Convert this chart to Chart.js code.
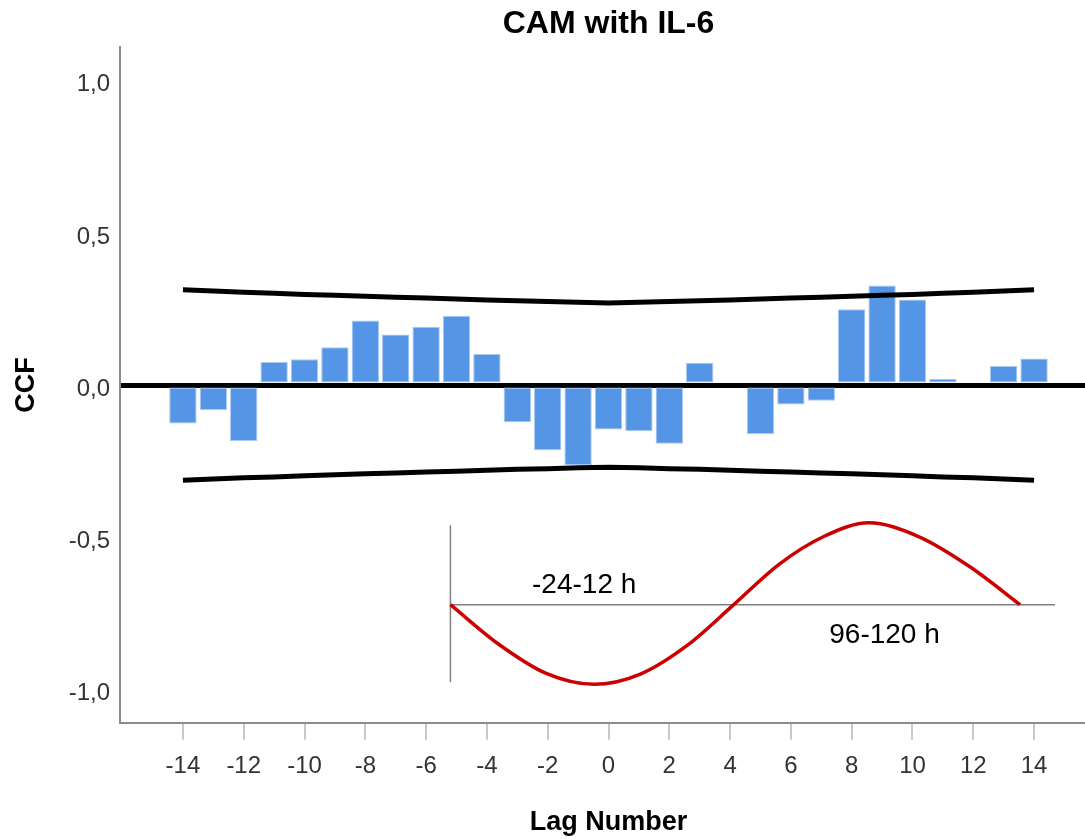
<!DOCTYPE html>
<html>
<head>
<meta charset="utf-8">
<script src="https://cdn.jsdelivr.net/npm/chart.js@4.4.1/dist/chart.umd.min.js"></script>
<style>
  html, body { margin: 0; padding: 0; background: #fff; overflow: hidden; }
  #wrap { width: 1085px; height: 839px; overflow: hidden; }
</style>
</head>
<body>
<div id="wrap"><canvas id="ccfChart" width="1097" height="839"></canvas></div>
<script>
// lags and cross-correlation values
const lags = [-14, -13, -12, -11, -10, -9, -8, -7, -6, -5, -4, -3, -2, -1, 0,
              1, 2, 3, 4, 5, 6, 7, 8, 9, 10, 11, 12, 13, 14];
const ccfValues = [-0.126, -0.082, -0.184, 0.076, 0.085, 0.124, 0.212, 0.166, 0.192, 0.228, 0.102,
                   -0.122, -0.214, -0.263, -0.146, -0.151, -0.193, 0.073,
                   0, -0.161, -0.064, -0.052, 0.249, 0.327, 0.281, 0.021, 0, 0.063, 0.087];
const upperLimit = [0.313, 0.309, 0.305, 0.302, 0.298, 0.295, 0.292, 0.289, 0.286, 0.283, 0.280, 0.277, 0.275, 0.272, 0.270,
                    0.272, 0.275, 0.277, 0.280, 0.283, 0.286, 0.289, 0.292, 0.295, 0.298, 0.302, 0.305, 0.309, 0.313];
const lowerLimit = [-0.313, -0.309, -0.305, -0.302, -0.298, -0.295, -0.292, -0.289, -0.286, -0.283, -0.280, -0.277, -0.275, -0.272, -0.270,
                    -0.272, -0.275, -0.277, -0.280, -0.283, -0.286, -0.289, -0.292, -0.295, -0.298, -0.302, -0.305, -0.309, -0.313];
const xTickLabels = [-14, -12, -10, -8, -6, -4, -2, 0, 2, 4, 6, 8, 10, 12, 14];
const yTickLabels = [-1, -0.5, 0, 0.5, 1];

// the hand-drawn wave sketch in the lower right, in lag / CCF units
const waveLags = [-5.2, -3.6, -2.05, -0.48, 1.05, 2.6, 4.12, 5.6, 7.1, 8.56, 10.2, 11.9, 13.54];
const waveValues = [-0.722, -0.853, -0.948, -0.984, -0.95, -0.855, -0.722, -0.59, -0.497, -0.453, -0.498, -0.598, -0.722];
const sketchBaseLags = [-5.2, 14.69];
const sketchBaseValue = -0.722;
const sketchStemLag = -5.2;
const sketchStemValues = [-0.461, -0.977];
const noteTexts = ['-24-12 h', '96-120 h'];
const noteLags = [-0.8, 9.08];
const noteValues = [-0.683, -0.848];

const FONT = '"Liberation Sans", Arial, Helvetica, sans-serif';

const notesPlugin = {
    id: 'notes',
    afterDatasetsDraw(chart) {
        const { ctx, scales } = chart;
        ctx.save();
        ctx.font = '28px ' + FONT;
        ctx.fillStyle = '#000';
        ctx.textAlign = 'center';
        ctx.textBaseline = 'alphabetic';
        noteTexts.forEach((t, i) => {
            ctx.fillText(t, scales.x.getPixelForValue(noteLags[i]), scales.y.getPixelForValue(noteValues[i]));
        });
        ctx.restore();
    }
};

const ctx = document.getElementById('ccfChart');
new Chart(ctx, {
    type: 'bar',
    data: {
        datasets: [
            {
                type: 'line',
                data: lags.map((l, i) => ({ x: l, y: upperLimit[i] })),
                borderColor: '#000',
                borderWidth: 5,
                pointRadius: 0,
                fill: false,
                order: 1
            },
            {
                type: 'line',
                data: lags.map((l, i) => ({ x: l, y: lowerLimit[i] })),
                borderColor: '#000',
                borderWidth: 5,
                pointRadius: 0,
                fill: false,
                order: 1
            },
            {
                type: 'bar',
                data: lags.map((l, i) => ({ x: l, y: ccfValues[i] })),
                backgroundColor: '#5595e5',
                borderColor: '#a8c8f0',
                borderWidth: 1,
                borderSkipped: false,
                barPercentage: 0.9,
                categoryPercentage: 1,
                order: 2
            },
            {
                type: 'line',
                data: sketchBaseLags.map(l => ({ x: l, y: sketchBaseValue })),
                borderColor: '#808080',
                borderWidth: 1.5,
                pointRadius: 0,
                fill: false,
                order: 3
            },
            {
                type: 'line',
                data: sketchStemValues.map(v => ({ x: sketchStemLag, y: v })),
                borderColor: '#808080',
                borderWidth: 1.5,
                pointRadius: 0,
                fill: false,
                order: 3
            },
            {
                type: 'line',
                data: waveLags.map((l, i) => ({ x: l, y: waveValues[i] })),
                borderColor: '#cc0000',
                borderWidth: 3.5,
                pointRadius: 0,
                fill: false,
                cubicInterpolationMode: 'monotone',
                order: 0
            }
        ]
    },
    options: {
        responsive: false,
        devicePixelRatio: 1,
        animation: false,
        layout: { padding: 0 },
        plugins: {
            legend: { display: false },
            tooltip: { enabled: false },
            title: {
                display: true,
                text: 'CAM with IL-6',
                fullSize: false,
                color: '#000',
                font: { family: FONT, size: 32, weight: 'bold' },
                padding: { top: 5, bottom: 4 }
            }
        },
        scales: {
            x: {
                type: 'linear',
                min: -16.07,
                max: 16.07,
                offset: false,
                afterBuildTicks: (scale) => { scale.ticks = xTickLabels.map(v => ({ value: v })); },
                afterFit: (scale) => { scale.height = 116.3; },
                ticks: {
                    color: '#333',
                    font: { family: FONT, size: 24 },
                    padding: 12,
                    maxRotation: 0,
                    autoSkip: false,
                    callback: (v) => String(v)
                },
                grid: {
                    offset: false,
                    drawOnChartArea: false,
                    drawTicks: true,
                    tickLength: 17,
                    color: '#c8c8c8',
                    lineWidth: 2
                },
                border: { display: true, color: '#8c8c8c', width: 2 },
                title: {
                    display: true,
                    text: 'Lag Number',
                    color: '#000',
                    font: { family: FONT, size: 27, weight: 'bold' },
                    padding: { top: 0, bottom: 0 }
                }
            },
            y: {
                type: 'linear',
                min: -1.11,
                max: 1.11,
                afterBuildTicks: (scale) => { scale.ticks = yTickLabels.map(v => ({ value: v })); },
                afterFit: (scale) => { scale.width = 120; },
                ticks: {
                    color: '#333',
                    font: { family: FONT, size: 24 },
                    padding: 10,
                    labelOffset: 4,
                    callback: (v) => v.toFixed(1).replace('.', ',')
                },
                grid: {
                    drawTicks: false,
                    color: (c) => (c.tick && c.tick.value === 0 ? '#000' : 'rgba(0,0,0,0)'),
                    lineWidth: (c) => (c.tick && c.tick.value === 0 ? 5 : 0)
                },
                border: { display: true, color: '#8c8c8c', width: 2 },
                title: {
                    display: true,
                    text: 'CCF',
                    color: '#000',
                    font: { family: FONT, size: 27, weight: 'bold' },
                    padding: { top: 10, bottom: 0 }
                }
            }
        }
    },
    plugins: [notesPlugin]
});
</script>
</body>
</html>
